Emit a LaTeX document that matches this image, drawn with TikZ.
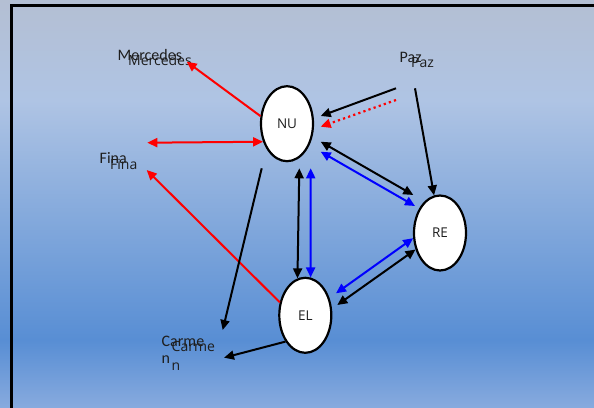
\documentclass[tikz,border=0pt]{standalone}
\usepackage{fontspec}
\setmainfont{Open Sans}
\newfontfamily\calib{Carlito}
\newfontfamily\osans{Open Sans}
\usetikzlibrary{arrows.meta,shapes.geometric}
\definecolor{bgA}{RGB}{135,170,222}
\definecolor{bgB}{RGB}{88,142,212}
\definecolor{bgC}{RGB}{138,173,221}
\definecolor{bgD}{RGB}{175,196,228}
\definecolor{bgE}{RGB}{180,191,211}
\definecolor{txt}{RGB}{30,30,30}
\pgfdeclareverticalshading{bgshade}{100bp}{color(0bp)=(bgA); color(25bp)=(bgA); color(33.2bp)=(bgB); color(50.4bp)=(bgC); color(62.7bp)=(bgD); color(75bp)=(bgE); color(100bp)=(bgE)}
\tikzset{
  ell/.style={ellipse, draw=black, fill=white, line width=2.2pt, minimum width=52pt, minimum height=75pt, inner sep=0pt, text=txt, font=\osans\fontsize{13.5}{15}\selectfont},
  labA/.style={inner sep=0pt, anchor=base west, text=txt, align=left, font=\calib\fontsize{16}{17.3}\selectfont},
  labB/.style={inner sep=0pt, anchor=base west, text=txt, align=left, font=\osans\fontsize{14}{18.3}\selectfont},
  tipx/.tip={Triangle[length=10pt,width=9pt]},
  con/.style={line width=2pt, -tipx},
  dbl/.style={line width=2pt, tipx-tipx},
  dotcon/.style={line width=2.2pt, dash pattern=on 2.2pt off 3.2pt, -tipx}
}
\begin{document}
\begin{tikzpicture}[x=1pt,y=-1pt]
\useasboundingbox (0,0) rectangle (594,407);
\shade[shading=bgshade] (0,0) rectangle (594,407);
\draw[line width=2.6pt, line join=miter] (11.7,410) -- (11.7,5.3) -- (597,5.3);

% nodes
\node[ell] (NU) at (287,123.7) {NU};
\node[ell] (RE) at (440,233) {RE};
\node[ell] (EL) at (305.3,315.3) {EL};

\node[labA] (mer1) at (117.5,60) {Mercedes};
\node[labB] (mer2) at (128,65.7) {Mercedes};
\node[labA] (paz1) at (399.5,62.3) {Paz};
\node[labB] (paz2) at (411,67.3) {Paz};
\node[labA] (fin1) at (99.5,163.3) {Fina};
\node[labB] (fin2) at (110,169) {Fina};
\node[labA] (car1) at (161.5,363.3) {Carme\\n};
\node[labB] (car2) at (171.5,370) {Carme\\n};

% free ends
\coordinate (merT) at (186.7,61.7);
\coordinate (finT1) at (147.3,142.7);
\coordinate (finT2) at (146.7,170);
\coordinate (nuB1) at (261.7,168.3);
\coordinate (carT1) at (222.7,330);
\coordinate (carT2) at (224,357.7);
\coordinate (pazS1) at (396,88.3);
\coordinate (nuR1) at (320.7,116);
\coordinate (pazS2) at (396,100);
\coordinate (nuR2) at (320.7,126.7);
\coordinate (pazS3) at (415,88.3);
\coordinate (nuR3) at (320.7,141.7);
\coordinate (reL1) at (413.3,195);
\coordinate (nuR4) at (320.7,151.7);
\coordinate (reL2) at (415,206);
\coordinate (nuB2) at (299.3,168.3);
\coordinate (nuB3) at (310.7,168.3);
\coordinate (elR1) at (336,293.3);
\coordinate (elR2) at (337.3,305);

% connectors
\draw[con, red] (NU.164) -- (merT);
\draw[dbl, red] (finT1) -- (NU.217);
\draw[con, red] (EL.153) -- (finT2);
\draw[con] (nuB1) -- (carT1);
\draw[con] (EL.233) -- (carT2);
\draw[con] (pazS1) -- (nuR1);
\draw[dotcon, red] (pazS2) -- (nuR2);
\draw[con] (pazS3) -- (RE.99);
\draw[dbl] (nuR3) -- (reL1);
\draw[dbl, blue] (nuR4) -- (reL2);
\draw[dbl] (nuB2) -- (EL.102);
\draw[dbl, blue] (nuB3) -- (EL.82);
\draw[dbl, blue] (RE.191) -- (elR1);
\draw[dbl] (RE.214) -- (elR2);
\end{tikzpicture}
\end{document}
